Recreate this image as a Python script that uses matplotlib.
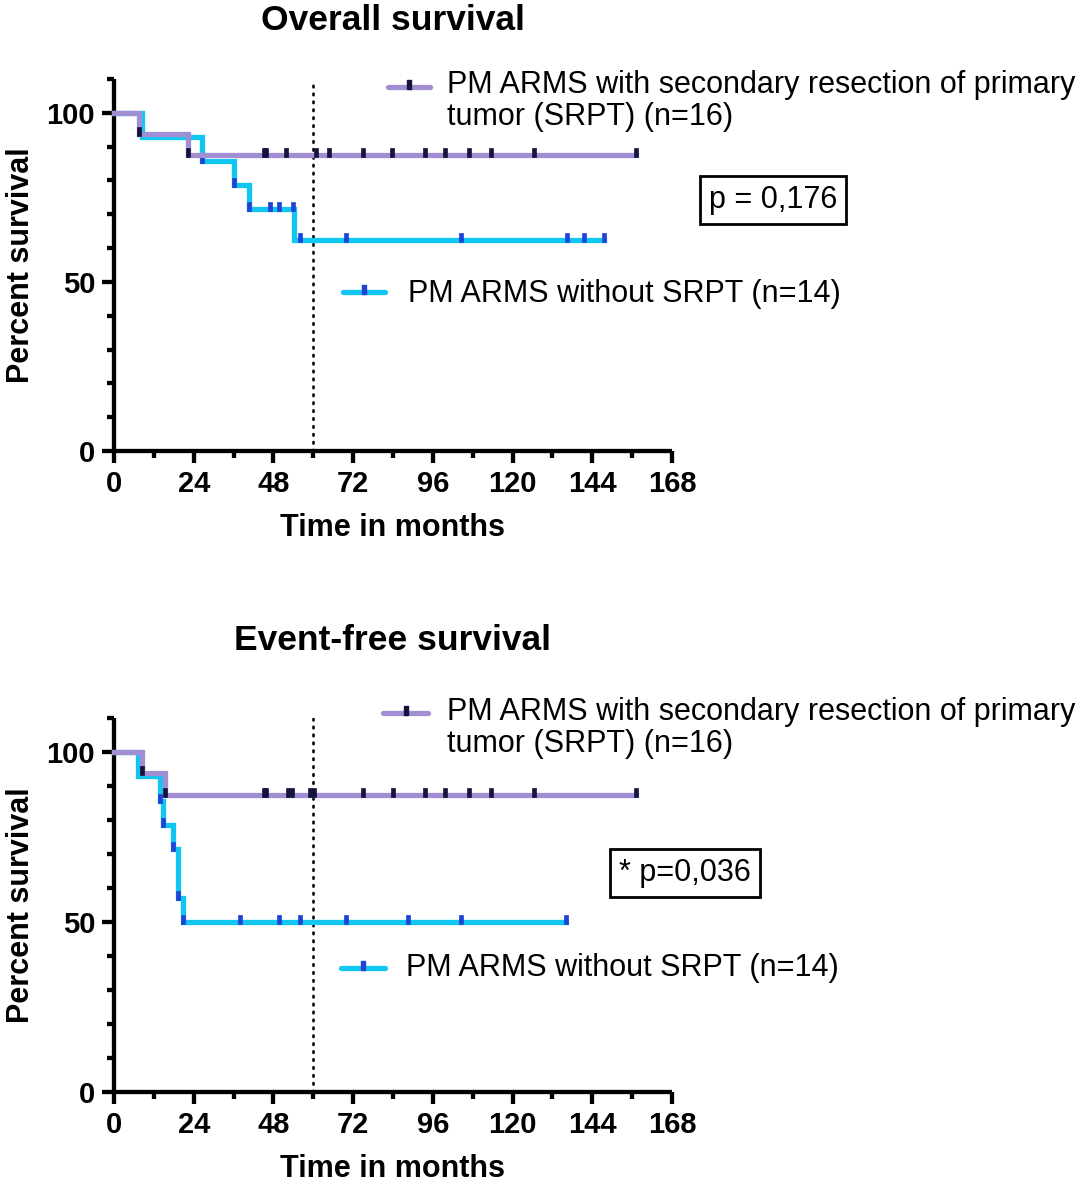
import matplotlib
matplotlib.use("Agg")
import matplotlib.pyplot as plt
from matplotlib.lines import Line2D
import numpy as np

plt.rcParams['font.family'] = ['Liberation Sans', 'DejaVu Sans']

# ---- data (months, percent survival) ----
os_srpt_times = [0, 7.5, 22.2, 157.3]
os_srpt_surv = [100, 93.75, 87.5, 87.5]
os_srpt_marks = [7.5, 22.2, 45.2, 45.9, 51.8, 60.7, 64.8, 74.9, 83.8, 93.6,
                 99.6, 106.8, 113.5, 126.4, 157.3]

os_nosrpt_times = [0, 8.5, 26.5, 36.1, 40.6, 54.1, 147.5]
os_nosrpt_surv = [100, 92.86, 85.71, 78.57, 71.43, 62.5, 62.5]
os_nosrpt_marks = [26.5, 36.1, 40.6, 47.0, 49.8, 53.9, 55.9, 69.8, 104.6,
                   136.5, 141.4, 147.5]

efs_srpt_times = [0, 8.3, 15.4, 157.3]
efs_srpt_surv = [100, 93.75, 87.5, 87.5]
efs_srpt_marks = [8.3, 15.4, 45.2, 45.9, 52.3, 53.5, 59.0, 60.2, 74.9, 84.0,
                  93.6, 99.6, 106.8, 113.5, 126.4, 157.3]

efs_nosrpt_times = [0, 7.3, 13.9, 14.9, 17.9, 19.4, 20.9, 136.2]
efs_nosrpt_surv = [100, 92.86, 85.71, 78.57, 71.43, 57.14, 50, 50]
efs_nosrpt_marks = [13.9, 14.9, 17.9, 19.4, 20.9, 37.9, 49.8, 55.9, 69.8,
                    88.6, 104.6, 136.2]

x_ticks = [0, 24, 48, 72, 96, 120, 144, 168]
y_ticks = [0, 50, 100]
cutoff_month = 60

label_srpt = "PM ARMS with secondary resection of primary\ntumor (SRPT) (n=16)"
label_nosrpt = "PM ARMS without SRPT (n=14)"

PURPLE = '#a28ed2'
CYAN = '#12c6f2'
PURPLE_MARK = '#16143e'
CYAN_MARK = '#2142d6'

W, H = 1084, 1189
fig = plt.figure(figsize=(W / 100, H / 100), dpi=100)

# tick mark that sits on top of the line
tick_marker = [(-0.35, -0.3), (0.35, -0.3), (0.35, 1.0), (-0.35, 1.0), (-0.35, -0.3)]


def fx(px):
    return px / W


def fy(py):
    return 1 - py / H


def level_at(times, surv, t):
    i = np.searchsorted(times, t, side='right') - 1
    return surv[i]


def km_curve(ax, times, surv, marks, color, mcolor, z):
    ax.step(times, surv, where='post', color=color, lw=3.8, zorder=z,
            solid_joinstyle='miter', clip_on=False)
    ys = [level_at(times, surv, t) for t in marks]
    ax.plot(marks, ys, ls='none', marker=tick_marker, ms=10, mfc=mcolor,
            mec=mcolor, mew=0.5, zorder=z + 0.5, clip_on=False)


def style_axes(ax):
    ax.set_xlim(0, 168)
    ax.set_ylim(0, 110)
    for s in ['top', 'right']:
        ax.spines[s].set_visible(False)
    for s in ['left', 'bottom']:
        ax.spines[s].set_linewidth(3.1)
        ax.spines[s].set_capstyle('butt')
    ax.set_xticks(x_ticks)
    ax.set_xticks(np.arange(12, 168, 24), minor=True)
    ax.set_yticks(y_ticks)
    ax.set_yticks([10, 20, 30, 40, 60, 70, 80, 90, 110], minor=True)
    ax.tick_params(which='major', direction='out', length=8.5, width=3.1,
                   labelsize=21, pad=5)
    ax.tick_params(which='minor', direction='out', length=5, width=3.1)
    for lab in ax.get_xticklabels() + ax.get_yticklabels():
        lab.set_fontweight('bold')
    ax.set_xlabel('Time in months', fontsize=22, fontweight='bold', labelpad=11)
    ax.set_ylabel('Percent survival', fontsize=22, fontweight='bold', labelpad=8)
    ax.axvline(cutoff_month, color='black', lw=1.9, ls=(0, (0.6, 2.4)),
               dash_capstyle='round', zorder=1)
    ax.patch.set_alpha(0)


def legend_entry(x0, x1, y, text_x, text_y, label, color, mcolor):
    fig.add_artist(Line2D([fx(x0), fx(x1)], [fy(y), fy(y)], color=color, lw=3.8,
                          solid_capstyle='round'))
    fig.add_artist(Line2D([fx((x0 + x1) / 2)], [fy(y)], ls='none',
                          marker=tick_marker, ms=10, mfc=mcolor, mec=mcolor))
    fig.text(fx(text_x), fy(text_y), label, fontsize=22, va='top', ha='left',
             linespacing=1.08)


# ---- overall survival ----
ax1 = fig.add_axes([fx(114), fy(451), fx(672) - fx(114), fy(79) - fy(451)])
style_axes(ax1)
km_curve(ax1, os_nosrpt_times, os_nosrpt_surv, os_nosrpt_marks, CYAN, CYAN_MARK, 3)
km_curve(ax1, os_srpt_times, os_srpt_surv, os_srpt_marks, PURPLE, PURPLE_MARK, 4)
fig.text(fx(393), fy(21), 'Overall survival', fontsize=25.5, fontweight='bold',
         ha='center', va='center')
legend_entry(388, 430, 87, 447, 70, label_srpt, PURPLE, PURPLE_MARK)
legend_entry(343, 385, 292, 408, 279, label_nosrpt, CYAN, CYAN_MARK)
fig.text(fx(773), fy(200), 'p = 0,176', fontsize=22, ha='center', va='center',
         bbox=dict(boxstyle='square,pad=0.3', fc='white', ec='black', lw=2))

# ---- event-free survival ----
ax2 = fig.add_axes([fx(114), fy(1092), fx(672) - fx(114), fy(718) - fy(1092)])
style_axes(ax2)
km_curve(ax2, efs_nosrpt_times, efs_nosrpt_surv, efs_nosrpt_marks, CYAN, CYAN_MARK, 3)
km_curve(ax2, efs_srpt_times, efs_srpt_surv, efs_srpt_marks, PURPLE, PURPLE_MARK, 4)
fig.text(fx(393), fy(640), 'Event-free survival', fontsize=25.5, fontweight='bold',
         ha='center', va='center')
legend_entry(383, 428, 713, 447, 697, label_srpt, PURPLE, PURPLE_MARK)
legend_entry(341, 385, 968, 406, 953, label_nosrpt, CYAN, CYAN_MARK)
fig.text(fx(685), fy(873), '* p=0,036', fontsize=22, ha='center', va='center',
         bbox=dict(boxstyle='square,pad=0.3', fc='white', ec='black', lw=2))

fig.savefig('out.png', dpi=100)
